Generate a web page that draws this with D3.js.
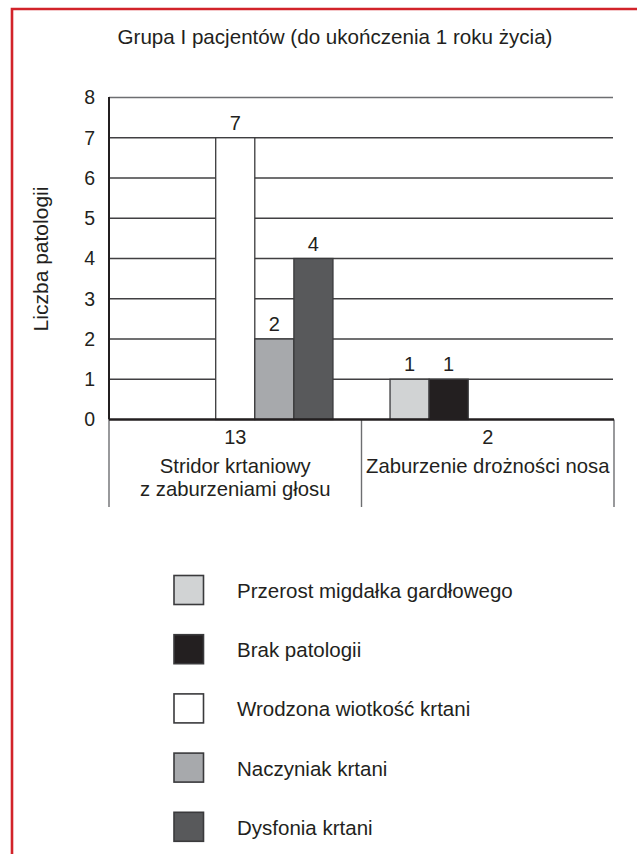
<!DOCTYPE html>
<html>
<head>
<meta charset="utf-8">
<script src="https://cdn.jsdelivr.net/npm/d3@7"></script>
<style>
  html, body { margin: 0; padding: 0; background: #fff; }
  svg { display: block; }
  text { font-family: "Liberation Sans", Arial, Helvetica, sans-serif; fill: #231f20; }
</style>
</head>
<body>
<script>
// Chart data
const title = "Grupa I pacjentów (do ukończenia 1 roku życia)";
const yTitle = "Liczba patologii";
const categories = ["Stridor krtaniowy|z zaburzeniami głosu", "Zaburzenie drożności nosa"];
const categoryTotals = [13, 2];
const series = ["Przerost migdałka gardłowego", "Brak patologii", "Wrodzona wiotkość krtani", "Naczyniak krtani", "Dysfonia krtani"];
const seriesColors = ["#d1d3d4", "#231f20", "#ffffff", "#a7a9ac", "#58595b"];
// values[s][c]: series s in category c
const przerost = [0, 1];
const brak = [0, 1];
const wrodzona = [7, 0];
const naczyniak = [2, 0];
const dysfonia = [4, 0];
const values = [przerost, brak, wrodzona, naczyniak, dysfonia];
const yTicks = [0, 1, 2, 3, 4, 5, 6, 7, 8];

const W = 637, H = 854;
const svg = d3.select("body").append("svg").attr("width", W).attr("height", H);

// red frame (left and top edges)
svg.append("path")
  .attr("d", `M12,${H + 5} L12,9 L${W + 5},9`)
  .attr("fill", "none").attr("stroke", "#d2232a").attr("stroke-width", 2.6);

// title
svg.append("text").attr("x", 335).attr("y", 44).attr("text-anchor", "middle")
  .style("font-size", "20.6px").text(title);

const plot = { left: 109, right: 614, top: 97.5, bottom: 419.5, tableBottom: 507 };

const y = d3.scaleLinear().domain([0, 8]).range([plot.bottom, plot.top]);
const x0 = d3.scaleBand().domain(categories).range([plot.left, plot.right]).padding(0);
const x1 = d3.scaleBand().domain(series).range([0, x0.bandwidth()]).paddingInner(0).paddingOuter(0.73);

const g = svg.append("g");

// horizontal grid
g.selectAll("line.grid").data(yTicks.filter(d => d > 0)).join("line")
  .attr("class", "grid")
  .attr("x1", plot.left).attr("x2", plot.right - 1)
  .attr("y1", d => y(d)).attr("y2", d => y(d))
  .attr("stroke", d => d === 8 ? "#6d6e71" : "#414042").attr("stroke-width", 1.3);

// y tick labels
const yAxis = d3.axisLeft(y).tickValues(yTicks).tickSize(0).tickPadding(14).tickFormat(d3.format("d"));
const ya = g.append("g").attr("transform", `translate(${plot.left},0)`).call(yAxis);
ya.select(".domain").remove();
ya.selectAll("text").style("font-size", "19.5px").style("font-family", "'Liberation Sans', Arial, sans-serif").attr("fill", "#231f20");

// y axis title
svg.append("text").attr("transform", "translate(48,259) rotate(-90)").attr("text-anchor", "middle")
  .style("font-size", "21px").text(yTitle);

// bars
const flat = [];
series.forEach((s, si) => categories.forEach((c, ci) => {
  if (values[si][ci] > 0) flat.push({ s, c, v: values[si][ci], color: seriesColors[si] });
}));

g.selectAll("rect.bar").data(flat).join("rect")
  .attr("class", "bar")
  .attr("x", d => x0(d.c) + x1(d.s))
  .attr("y", d => y(d.v))
  .attr("width", x1.bandwidth())
  .attr("height", d => y(0) - y(d.v))
  .attr("fill", d => d.color)
  .attr("stroke", "#3a3a3c").attr("stroke-width", 1.3);

g.selectAll("text.val").data(flat).join("text")
  .attr("class", "val")
  .attr("x", d => x0(d.c) + x1(d.s) + x1.bandwidth() / 2)
  .attr("y", d => y(d.v) - 8)
  .attr("text-anchor", "middle").style("font-size", "20px")
  .text(d => d.v);

// category table below the baseline
const bounds = [plot.left, ...categories.map(c => x0(c) + x0.bandwidth())];
g.selectAll("line.sep").data(bounds).join("line")
  .attr("class", "sep")
  .attr("x1", d => d).attr("x2", d => d)
  .attr("y1", plot.bottom).attr("y2", plot.tableBottom)
  .attr("stroke", "#6d6e71").attr("stroke-width", 1.4);

// y axis line and baseline
g.append("line").attr("x1", plot.left).attr("x2", plot.left).attr("y1", plot.top - 0.5).attr("y2", plot.bottom)
  .attr("stroke", "#231f20").attr("stroke-width", 2);
g.append("line").attr("x1", plot.left).attr("x2", plot.right).attr("y1", plot.bottom).attr("y2", plot.bottom)
  .attr("stroke", "#231f20").attr("stroke-width", 2.4);

const catG = g.selectAll("g.cat").data(categories).join("g").attr("class", "cat")
  .attr("transform", d => `translate(${x0(d) + x0.bandwidth() / 2},0)`);
catG.append("text").attr("y", 444).attr("text-anchor", "middle").style("font-size", "20px")
  .text((d, i) => categoryTotals[i]);
catG.each(function (d) {
  const lines = d.split("|");
  const t = d3.select(this).append("text").attr("text-anchor", "middle").style("font-size", "20.3px");
  lines.forEach((ln, i) => t.append("tspan").attr("x", 0).attr("y", 473 + i * 22.5).text(ln));
});

// legend
const lg = svg.selectAll("g.leg").data(series).join("g").attr("class", "leg")
  .attr("transform", (d, i) => `translate(174,${575.5 + i * 59.2})`);
lg.append("rect").attr("width", 29.5).attr("height", 29)
  .attr("fill", (d, i) => seriesColors[i]).attr("stroke", "#3a3a3c").attr("stroke-width", 1.6);
lg.append("text").attr("x", 63).attr("y", 22.5).style("font-size", "20.5px").text(d => d);
</script>
</body>
</html>
